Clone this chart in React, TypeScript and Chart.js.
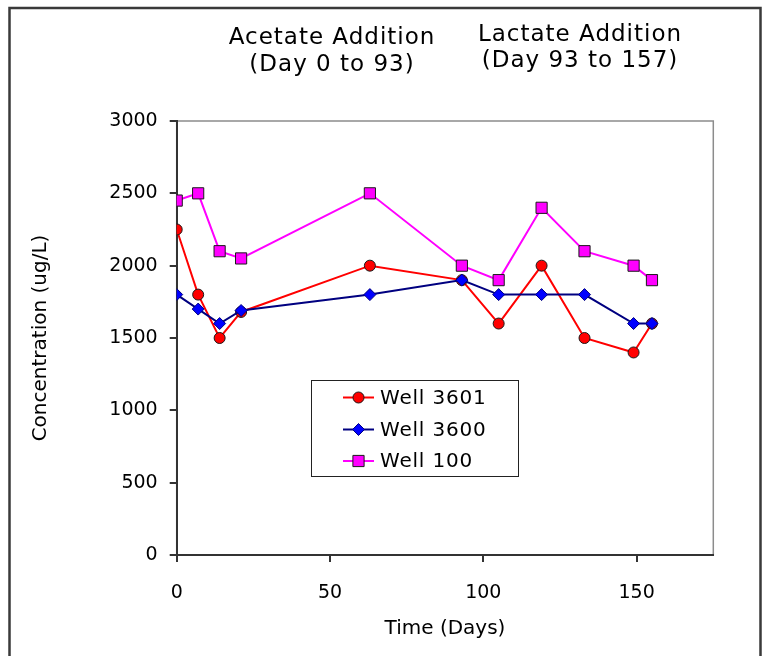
import React, { useEffect, useRef } from 'react';
import { Chart, registerables } from 'chart.js';

Chart.register(...registerables);

// ---- Data ----
const days = [0, 7, 14, 21, 63, 93, 105, 119, 133, 149, 155];
const well3601 = [2250, 1800, 1500, 1680, 2000, 1900, 1600, 2000, 1500, 1400, 1600];
const well3600 = [1800, 1700, 1600, 1690, 1800, 1900, 1800, 1800, 1800, 1600, 1600];
const well100 = [2450, 2500, 2100, 2050, 2500, 2000, 1900, 2400, 2100, 2000, 1900];

const seriesNames = ['Well 3601', 'Well 3600', 'Well 100'];
const xAxisTitle = 'Time (Days)';
const yAxisTitle = 'Concentration (ug/L)';
const phaseLabels = [
  ['Acetate Addition', '(Day 0 to 93)'],
  ['Lactate Addition', '(Day 93 to 157)'],
];
const xMin = 0;
const xMax = 175;
const xStep = 50;
const yMin = 0;
const yMax = 3000;
const yStep = 500;

const FONT = "'DejaVu Sans', sans-serif";

const toPoints = (vals: number[]) => days.map((d, i) => ({ x: d, y: vals[i] }));

type Style = { line: string; fill: string; border: string; shape: 'circle' | 'diamond' | 'square' };
const styles: Style[] = [
  { line: '#ff0000', fill: '#ff0000', border: '#1a1a1a', shape: 'circle' },
  { line: '#000080', fill: '#0000ff', border: '#000080', shape: 'diamond' },
  { line: '#ff00ff', fill: '#ff00ff', border: '#1a1a1a', shape: 'square' },
];

function drawMarker(ctx: CanvasRenderingContext2D, s: Style, x: number, y: number) {
  ctx.beginPath();
  if (s.shape === 'circle') {
    ctx.arc(x, y, 5.5, 0, Math.PI * 2);
  } else if (s.shape === 'diamond') {
    const r = 6;
    ctx.moveTo(x, y - r);
    ctx.lineTo(x + r, y);
    ctx.lineTo(x, y + r);
    ctx.lineTo(x - r, y);
    ctx.closePath();
  } else {
    const h = 5.6;
    ctx.rect(x - h, y - h, 2 * h, 2 * h);
  }
  ctx.fillStyle = s.fill;
  ctx.fill();
  ctx.lineWidth = 1;
  ctx.strokeStyle = s.border;
  ctx.stroke();
}

const decorPlugin = {
  id: 'decor',
  beforeDraw(chart: any) {
    const { ctx, chartArea: a } = chart;
    ctx.save();
    ctx.fillStyle = '#ffffff';
    ctx.fillRect(0, 0, chart.width, chart.height);
    // outer frame
    ctx.strokeStyle = '#3a3a3a';
    ctx.lineWidth = 2.5;
    ctx.beginPath();
    ctx.moveTo(9.5, 700);
    ctx.lineTo(9.5, 8);
    ctx.lineTo(760.5, 8);
    ctx.lineTo(760.5, 700);
    ctx.stroke();
    // plot area border
    ctx.strokeStyle = '#8c8c8c';
    ctx.lineWidth = 1.5;
    ctx.strokeRect(a.left, a.top, a.right - a.left, a.bottom - a.top);
    ctx.restore();
  },
  afterDraw(chart: any) {
    const { ctx } = chart;
    ctx.save();
    // phase annotations
    ctx.fillStyle = '#000';
    ctx.textAlign = 'center';
    ctx.textBaseline = 'alphabetic';
    ctx.font = `23px ${FONT}`;
    (ctx as any).letterSpacing = '1px';
    const pos = [
      { cx: 332, b1: 44, b2: 71 },
      { cx: 580, b1: 41, b2: 67 },
    ];
    phaseLabels.forEach((lines, i) => {
      ctx.fillText(lines[0], pos[i].cx, pos[i].b1);
      ctx.fillText(lines[1], pos[i].cx, pos[i].b2);
    });

    // legend box
    const bx = 311.5, by = 380.5, bw = 207, bh = 96;
    ctx.fillStyle = '#fff';
    ctx.fillRect(bx, by, bw, bh);
    ctx.strokeStyle = '#222';
    ctx.lineWidth = 1;
    ctx.strokeRect(bx, by, bw, bh);
    const rows = [397.5, 429.5, 461];
    ctx.font = `20px ${FONT}`;
    (ctx as any).letterSpacing = '0.8px';
    ctx.textAlign = 'left';
    ctx.textBaseline = 'middle';
    seriesNames.forEach((name, i) => {
      const s = styles[i];
      const y = rows[i];
      ctx.strokeStyle = s.line;
      ctx.lineWidth = 2;
      ctx.beginPath();
      ctx.moveTo(343, y);
      ctx.lineTo(374, y);
      ctx.stroke();
      drawMarker(ctx, s, 358.5, y);
      ctx.fillStyle = '#000';
      ctx.fillText(name, 380, y + 1);
    });
    ctx.restore();
  },
};

export default function App() {
  const ref = useRef<HTMLCanvasElement | null>(null);

  useEffect(() => {
    if (!ref.current) return;
    Chart.defaults.font.family = FONT;
    Chart.defaults.color = '#000';
    const seriesValues = [well3601, well3600, well100];
    const pointStyles = ['circle', 'rectRot', 'rect'];
    const radii = [5.5, 6, 7.9];
    const orders = [2, 1, 0];
    const chart = new Chart(ref.current, {
      type: 'line',
      data: {
        datasets: seriesValues.map((vals, i) => ({
          label: seriesNames[i],
          data: toPoints(vals),
          borderColor: styles[i].line,
          borderWidth: 2,
          backgroundColor: styles[i].fill,
          pointStyle: pointStyles[i] as any,
          pointRadius: radii[i],
          pointBackgroundColor: styles[i].fill,
          pointBorderColor: styles[i].border,
          pointBorderWidth: 1,
          tension: 0,
          fill: false,
          order: orders[i],
        })),
      },
      options: {
        animation: false,
        responsive: false,
        devicePixelRatio: 1,
        events: [],
        layout: { padding: { top: 121, right: 54.7, left: 0, bottom: 0 } },
        plugins: {
          legend: { display: false },
          tooltip: { enabled: false },
          title: { display: false },
        },
        scales: {
          x: {
            type: 'linear',
            min: xMin,
            max: xMax,
            afterFit: (s: any) => { s.height = 101; },
            ticks: {
              stepSize: xStep,
              includeBounds: false,
              font: { size: 19, family: FONT },
              color: '#000',
              padding: 20,
              maxRotation: 0,
              callback: (v: any) => String(v),
            },
            grid: {
              drawOnChartArea: false,
              drawTicks: true,
              tickLength: 7,
              color: '#333',
              lineWidth: 2,
            },
            border: { display: true, color: '#333', width: 2 },
            title: {
              display: true,
              text: xAxisTitle,
              font: { size: 20, family: FONT },
              color: '#000',
              padding: { top: 0, bottom: 15 },
            },
          },
          y: {
            type: 'linear',
            min: yMin,
            max: yMax,
            afterFit: (s: any) => { s.width = 176.7; },
            ticks: {
              stepSize: yStep,
              font: { size: 19, family: FONT },
              color: '#000',
              padding: 12,
              callback: (v: any) => String(v),
            },
            grid: {
              drawOnChartArea: false,
              drawTicks: true,
              tickLength: 7,
              color: '#333',
              lineWidth: 2,
            },
            border: { display: true, color: '#333', width: 2 },
            title: {
              display: true,
              text: yAxisTitle,
              font: { size: 20, family: FONT },
              color: '#000',
              padding: { top: 29, bottom: 0 },
            },
          },
        },
      },
      plugins: [decorPlugin],
    } as any);
    return () => chart.destroy();
  }, []);

  return (
    <div style={{ position: 'fixed', left: 0, top: 0, width: 768, height: 656, background: '#fff' }}>
      <canvas ref={ref} width={768} height={656} style={{ display: 'block', width: 768, height: 656 }} />
    </div>
  );
}
